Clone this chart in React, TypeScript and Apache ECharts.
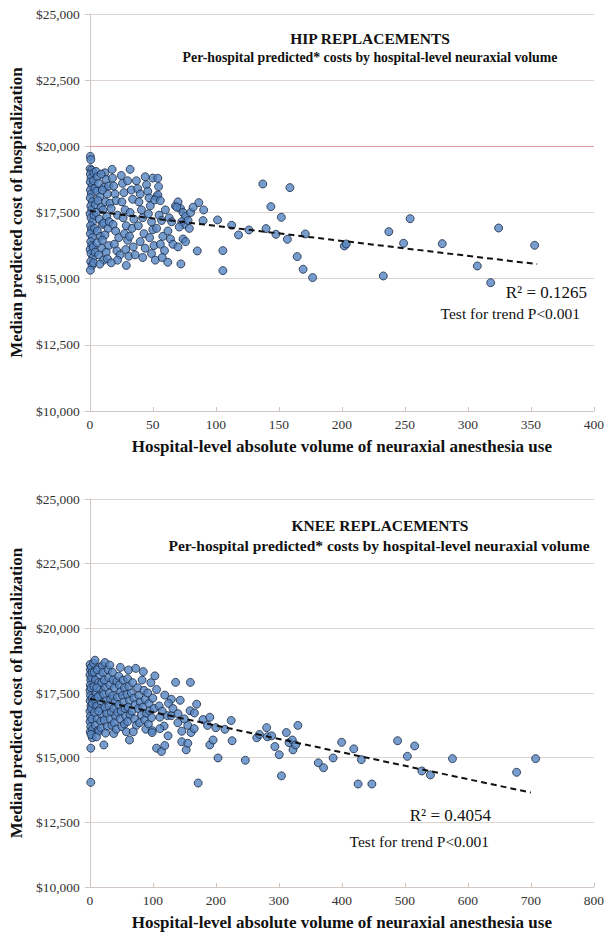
import React, { useEffect, useRef } from "react";
import * as echarts from "echarts";

// ---------- DATA ----------
const yTicks = [10000, 12500, 15000, 17500, 20000, 22500, 25000];
const hipXTicks = [0, 50, 100, 150, 200, 250, 300, 350, 400];
const kneeXTicks = [0, 100, 200, 300, 400, 500, 600, 700, 800];

const hipPoints: [number, number][] = [
  [0.5,19620],[0.8,19500],[0.3,19150],[1.5,19100],[0.5,18950],[1,18800],[0.5,18650],[1.8,18500],[0.6,18350],[1.2,18200],
  [0.4,18050],[2,17900],[0.8,17750],[1.5,17600],[0.3,17450],[1,17300],[2.2,17150],[0.6,17000],[1.4,16850],[0.5,16700],
  [2,16550],[0.8,16400],[1.5,16250],[0.3,16100],[1,15950],[2.5,15800],[0.7,15650],[1.8,15500],[0.5,15320],[3,18700],
  [3.5,17400],[2.8,16200],[3.2,19000],[4,18400],[4.5,17800],[3.8,16900],[4.2,16000],[3,15600],
  [5,19050],[6,18850],[7,18600],[5.5,18300],[8,18100],[6.5,17950],[9,17700],[5.2,17500],[7.5,17250],[10,17050],
  [6,16800],[8.5,16600],[5.8,16350],[9.5,16150],[7,15900],[11,15700],[8,15550],[12,19000],[13,18750],[11.5,18450],
  [14,18200],[12.5,17900],[10.5,17600],[13.5,17350],[11,17100],[14.5,16900],[12,16650],[10,16450],[15,16250],[13,16000],
  [14,15750],[9,18950],[10,18350],[15,18500],[16,17850],[15.5,17150],
  [17.7,19130],[18,18800],[19,18500],[20,18200],[21,17950],[17,17650],[22,17400],[18.5,17050],[20.5,16800],[23,16550],
  [19.5,16300],[21.5,16050],[24,15900],[22,15700],[17,15600],[25,18900],[26,18600],[27,18250],[25.5,17900],[28,17600],
  [26.5,17300],[29,17000],[27.5,16700],[30,16450],[28.5,16100],[31,15850],[32,19130],[30,18700],[33,18350],[34,18000],
  [32,17500],[35,17250],[33.5,16900],[31.5,16600],[34.5,16200],[36,15900],[29,15500],
  [37,18700],[38,18400],[40,18200],[39,17900],[41,17600],[42,17300],[38.5,17000],[43,16700],[40,16400],[44,16150],
  [42,15800],[45,18550],[46,18300],[47,18050],[48,17750],[46.5,17450],[49,17150],[50,16850],[47.5,16550],[51,16250],
  [49,15950],[52,15700],[50,18800],[53,18100],[44,18850],[54,18793],[54.6,18478],[54,18163],[51.5,17975],[56,17950],
  [55,17400],[57,17200],[53,16900],[58,16600],[56,16300],[59.3,16060],[57.5,15800],[61.9,15620],[60,17600],
  [63,17300],[65,17150],[62,16800],[64,16500],[66,16300],[68,17750],[70,17900],[72,17650],[69,17700],[74,17500],
  [76,17350],[73,17150],[75,17050],[71,16950],[78,17200],[72.3,15557],[70,16200],[74,16500],[76,16400],[86.5,17873],
  [90.4,17596],[89.9,17194],[85.3,16048],[80,17500],[82,17700],[79,16900],
  [101.4,17219],[105.6,16060],[105.6,15305],[112.6,17017],[118,16652],[126.3,16841],[137.3,18578],[143.7,17722],
  [139.9,16892],[147.7,16677],[152,17319],[156.8,16488],[158.8,18440],[164.6,15834],[169.3,15356],[171,16690],[176.8,15041],
  [202,16235],[203.5,16310],[232.9,15102],[237.3,16776],[249,16336],[254.2,17267],[279.7,16323],[307.5,15480],
  [318.1,14849],[324.4,16914],[353,16261],
];

const kneePoints: [number, number][] = [
  [0.5,18600],[1,18400],[0.3,18200],[1.5,18000],[0.8,17800],[0.4,17600],[1.2,17400],[0.6,17200],[1.8,17000],[0.3,16800],
  [1,16600],[0.5,16400],[1.5,16200],[0.8,16000],[1.6,15367],[1.6,14045],[2.5,18500],[3,18100],[2.2,17700],[3.5,17300],
  [2.8,16900],[3.2,16500],[4,15770],[4.5,16100],[3.8,18300],[4.2,17100],[2,15900],
  [6,18650],[8.3,18767],[7,18300],[9,18000],[6.5,17750],[10,17500],[8,17250],[11,17000],[7.5,16750],[12,16500],
  [9,16250],[13,16050],[14.6,16021],[10.5,15800],[15,18500],[16,18200],[14,17900],[17,17650],[15.5,17400],[18,17150],
  [16.5,16900],[19,16650],[17.5,16400],[18,16150],[12,18400],[11,17700],[13,17350],[14,16800],[19,17900],[20,18550],
  [22.4,15493],[24,18679],[21,18300],[23,18000],[25,17700],[22,17450],[26,17200],[24,16950],[27,16700],[23,16450],
  [28,16200],[25,15950],[29,18400],[31.8,18578],[30,18100],[32,17800],[31,17500],[33,17250],[30.5,17000],[34,16750],
  [32,16500],[35,16250],[38,15934],[36,18300],[37,18000],[39,17700],[36.5,17400],[40,17150],[38,16900],[41,16600],
  [39,16350],[42,16100],[43,17950],[44,17350],[44,16750],
  [48.5,18490],[46,18150],[47,17800],[49,17550],[46,17050],[50,16800],[48,16500],[51,16200],[53,18000],[55,17700],
  [52,17400],[54,17150],[56,16900],[57,16600],[55,16300],[58,16000],[61.5,18389],[60,18050],[62,17750],[59,17450],
  [63,17200],[61,16950],[64,16650],[63,15682],[60,16400],[66,17500],[68,17900],[67,16800],[73,18452],[70,17300],
  [72,17050],[71,16500],[74,16250],[69,16000],
  [76,17700],[78,17400],[80,17150],[77,16900],[82,16650],[79,16350],[85,18326],[83,18000],[86,17600],[88,17250],
  [84,16950],[90,16700],[87,16450],[89,16100],[92,17500],[94,17100],[95,16800],[93,16300],[97,17900],[98,16550],
  [99.1,16047],[99,15971],[103.3,18162],[100,17300],[102,16900],
  [106,15367],[106,17634],[111.2,16563],[113.8,15241],[118,16223],[111.2,16122],[119,17419],[119,15470],[123.2,16626],
  [124.2,15845],[129.4,17256],[129.4,16626],[136.2,17910],[139.8,16349],[143.5,17218],[146,16021],[146,15618],[153,15304],
  [155.6,15556],[155.5,16248],[159.2,16815],[159.7,17910],[160.7,15971],[165.7,16122],[166,16727],[169.6,17067],[172,14019],
  [110,17000],[115,16800],[125,17100],[132,16900],[140,16700],[150,16500],
  [179.8,16475],[186.8,16248],[190.5,16563],[190.5,15493],[195.7,15682],[200,16160],[203.5,14989],[214.5,16097],
  [224.4,16437],[225.9,15656],[246.9,14900],[265,15770],[269.3,15896],[280.7,16160],[281.8,15808],[288.6,15845],
  [293.8,15430],[300.6,15115],[304.2,14297],[312,15971],[316.2,15581],[321.4,15682],[322.5,15304],[326.7,15493],[330.3,16248],
  [362.7,14800],[371,14611],[386.2,14989],[399.7,15594],[419,15341],[431,14925],[425.8,13981],[447.7,13981],
  [488.5,15656],[504,15051],[515.6,15454],[527,14485],[540.6,14333],[575.6,14963],[677.4,14434],[707.6,14963],
];

// trend line end points
const hipTrend: [number, number][] = [[0, 17560], [355, 15550]];
const kneeTrend: [number, number][] = [[0, 17280], [700, 13650]];

const hipTitle = "HIP REPLACEMENTS";
const kneeTitle = "KNEE REPLACEMENTS";
const subTitle = "Per-hospital predicted* costs by hospital-level neuraxial volume";
const yName = "Median predicted cost of hospitalization";
const xName = "Hospital-level absolute volume of neuraxial anesthesia use";
const hipR2 = "R² = 0.1265";
const kneeR2 = "R² = 0.4054";
const trendText = "Test for trend P<0.001";

const SERIF = "'Liberation Serif', 'Times New Roman', serif";

export default function App() {
  const ref = useRef<HTMLDivElement>(null);
  useEffect(() => {
    if (!ref.current) return;
    const chart = echarts.init(ref.current, null, { renderer: "svg" });
    const fmt = (v: number) => "$" + v.toLocaleString("en-US");
    const gridLine = { show: true, lineStyle: { color: "#dcd2ce", width: 1 } };
    const axisLine = { show: true, lineStyle: { color: "#cfc6c2", width: 1 } };
    const tickLabel = { fontFamily: SERIF, fontSize: 13.5, color: "#333" };

    const mkX = (gi: number, max: number, interval: number) => ({
      type: "value", gridIndex: gi, min: 0, max, interval,
      name: xName, nameLocation: "middle", nameGap: 27,
      nameTextStyle: { fontFamily: SERIF, fontSize: 17, fontWeight: "bold", color: "#111" },
      axisLine, axisTick: { show: true, inside: true, length: 4, lineStyle: { color: "#cfc6c2" } },
      axisLabel: { ...tickLabel, margin: 6 }, splitLine: { show: false },
    });
    const mkY = (gi: number) => ({
      type: "value", gridIndex: gi, min: 10000, max: 25000, interval: 2500,
      name: yName, nameLocation: "middle", nameGap: 62,
      nameTextStyle: { fontFamily: SERIF, fontSize: 17, fontWeight: "bold", color: "#111" },
      axisLine, axisTick: { show: true, length: 5, lineStyle: { color: "#cfc6c2" } },
      axisLabel: { ...tickLabel, margin: 10, formatter: fmt }, splitLine: gridLine,
    });
    const pointStyle = { color: "#5585c2", borderColor: "#1c2b44", borderWidth: 1 };
    const trendStyle = { color: "#111", width: 2, type: [6, 4] as any };
    const txt = (text: string, x: number, y: number, size: number, bold: boolean, align: string) => ({
      type: "text", x, y,
      style: { text, fontFamily: SERIF, fontSize: size, fontWeight: bold ? "bold" : "normal", fill: "#111", textAlign: align, textVerticalAlign: "middle" },
    });

    chart.setOption({
      animation: false,
      grid: [
        { left: 84, top: 14, width: 511, height: 397 },
        { left: 84, top: 499, width: 511, height: 388 },
      ],
      xAxis: [mkX(0, 400, 50), mkX(1, 800, 100)],
      yAxis: [mkY(0), mkY(1)],
      series: [
        {
          type: "scatter", xAxisIndex: 0, yAxisIndex: 0, data: hipPoints,
          symbolSize: 8, itemStyle: pointStyle,
          markLine: {
            silent: true, symbol: "none", label: { show: false },
            lineStyle: { color: "#e09c9c", type: "solid", width: 1 },
            data: [{ yAxis: 20000 }],
          },
        },
        { type: "line", xAxisIndex: 0, yAxisIndex: 0, data: hipTrend, symbol: "none", lineStyle: trendStyle, z: 5 },
        { type: "scatter", xAxisIndex: 1, yAxisIndex: 1, data: kneePoints, symbolSize: 8, itemStyle: pointStyle },
        { type: "line", xAxisIndex: 1, yAxisIndex: 1, data: kneeTrend, symbol: "none", lineStyle: trendStyle, z: 5 },
      ],
      graphic: [
        txt(hipTitle, 370, 38, 15.5, true, "center"),
        txt(subTitle, 370, 57, 13.8, true, "center"),
        txt(kneeTitle, 380, 525, 15.5, true, "center"),
        txt(subTitle, 379, 545, 15.5, true, "center"),
        txt(hipR2, 587, 292, 17, false, "right"),
        txt(trendText, 580, 313, 15.5, false, "right"),
        txt(kneeR2, 491, 815, 17, false, "right"),
        txt(trendText, 489, 841, 15.5, false, "right"),
      ],
    });
    return () => chart.dispose();
  }, []);
  return <div ref={ref} style={{ position: "absolute", left: 0, top: 0, width: 607, height: 939, background: "#fff" }} />;
}
